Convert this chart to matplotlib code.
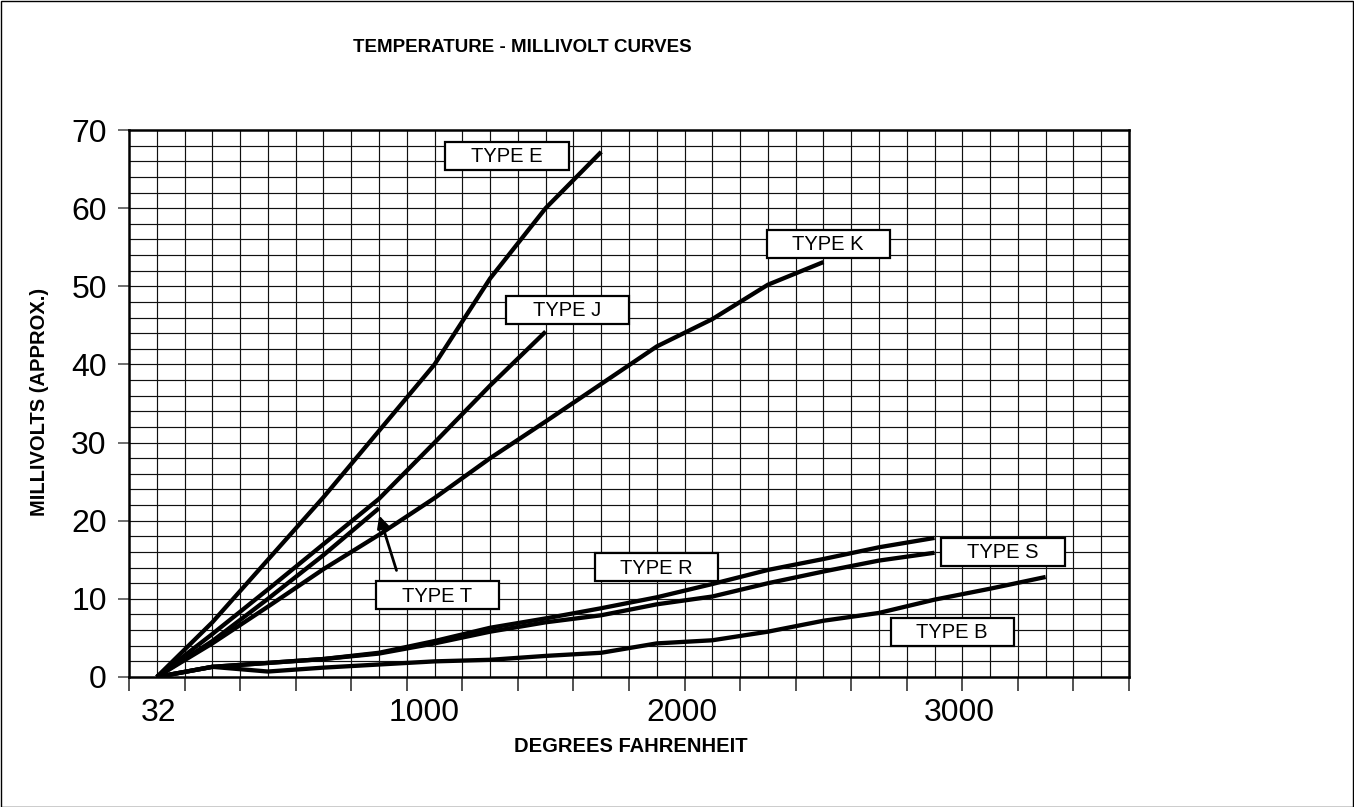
import matplotlib
matplotlib.use('Agg')
import matplotlib.pyplot as plt
from matplotlib.patches import Rectangle
import numpy as np

plt.rcParams['font.family'] = ['Liberation Sans', 'DejaVu Sans']

# ---------------- data ----------------
temps_f = [32, 200, 400, 600, 800, 1000, 1200, 1400, 1600, 1800,
           2000, 2200, 2400, 2600, 2800, 3000, 3200, 3400]
type_e = [0, 7.0, 15.0, 23.0, 31.5, 40.0, 51.0, 60.0, 67.2]
type_j = [0, 5.5, 11.2, 17.0, 22.8, 30.0, 37.3, 44.2]
type_t = [0, 4.6, 10.0, 15.6, 21.6]
type_k = [0, 4.3, 9.0, 13.8, 18.2, 22.9, 28.0, 32.7, 37.5, 42.3, 45.8, 50.2, 53.1]
type_r = [0, 1.3, 1.8, 2.3, 3.1, 4.6, 6.3, 7.5, 8.8, 10.2, 11.9, 13.7, 15.1, 16.6, 17.8]
type_s = [0, 1.3, 1.8, 2.3, 3.0, 4.3, 5.8, 7.0, 7.9, 9.3, 10.3, 12.0, 13.5, 14.9, 15.9]
type_b = [0, 1.3, 0.7, 1.2, 1.6, 2.0, 2.2, 2.7, 3.1, 4.3, 4.7, 5.8, 7.2, 8.2, 9.9, 11.3, 12.8]

series_names = ['TYPE E', 'TYPE J', 'TYPE T', 'TYPE K', 'TYPE R', 'TYPE S', 'TYPE B']
x_tick_labels = ['32', '1000', '2000', '3000']
y_ticks = [0, 10, 20, 30, 40, 50, 60, 70]

# ---------------- layout ----------------
W, H = 1354, 807
fig = plt.figure(figsize=(W / 100, H / 100), dpi=100)
ax = fig.add_axes([129 / W, 1 - 677 / H, 1000 / W, 547 / H])

ncat = len(temps_f)
ax.set_xlim(-0.5, ncat - 0.5)
ax.set_ylim(0, 70)

# grid
ax.vlines(np.arange(0, ncat - 0.5, 0.5), 0, 70, colors='#111111', linewidth=0.85, zorder=1)
ax.hlines(np.arange(2, 70, 2), -0.5, ncat - 0.5, colors='#111111', linewidth=0.85, zorder=1)

# series
for vals in [type_e, type_j, type_t, type_k, type_r, type_s, type_b]:
    ax.plot(np.arange(len(vals)), vals, color='black', linewidth=3.1,
            solid_joinstyle='round', solid_capstyle='butt', zorder=3)

# axes styling
for sp in ax.spines.values():
    sp.set_linewidth(1.8)
    sp.set_color('black')
    sp.set_zorder(4)

ax.set_xticks(np.arange(-0.5, ncat, 1))
ax.set_xticklabels([])
ax.tick_params(axis='x', length=10, width=1.2, color='#333333', direction='out')
ax.set_yticks(y_ticks)
ax.set_yticklabels([str(v) for v in y_ticks], fontsize=23)
ax.tick_params(axis='y', length=8, width=1.2, color='#555555', direction='out', pad=8)

# manual x labels (as on the original sheet)
x_label_pos = [0.04, 4.82, 9.46, 14.45]
for xp, lab in zip(x_label_pos, x_tick_labels):
    ax.text(xp, -36 / 547, lab, transform=ax.get_xaxis_transform(),
            ha='center', va='center', fontsize=23)

fig.text(522 / W, 1 - 47 / H, 'TEMPERATURE - MILLIVOLT CURVES',
         ha='center', va='center', fontsize=13.5, fontweight='bold')
fig.text(631 / W, 1 - 746 / H, 'DEGREES FAHRENHEIT',
         ha='center', va='center', fontsize=14.5, fontweight='bold')
fig.text(40 / W, 1 - 402 / H, 'MILLIVOLTS (APPROX.)', rotation=90,
         ha='center', va='center', fontsize=14.5, fontweight='bold')

# label boxes (pixel centres)
box_centers = [(507, 156), (567, 310), (437, 595), (828, 244),
               (656, 567), (1003, 552), (952, 632)]
bw, bh = 123, 28
for name, (cx, cy) in zip(series_names, box_centers):
    ax.add_patch(Rectangle(((cx - bw / 2) / W, 1 - (cy + bh / 2) / H), bw / W, bh / H,
                           transform=fig.transFigure, facecolor='white',
                           edgecolor='black', linewidth=1.6, clip_on=False, zorder=6))
    ax.text(cx / W, 1 - (cy + 1) / H, name, transform=fig.transFigure,
            ha='center', va='center', fontsize=14.5, zorder=7)

# arrow for type T
ax.annotate('', xy=(3.99, 21.0), xytext=(4.33, 13.3),
            arrowprops=dict(arrowstyle='-|>', lw=2.0, color='black', mutation_scale=18),
            zorder=6)

# outer border
fig.patches.append(Rectangle((0.5 / W, 0.5 / H), 1 - 1.5 / W, 1 - 1.5 / H,
                             transform=fig.transFigure, fill=False,
                             edgecolor='black', linewidth=1.0))

fig.savefig('out.png', dpi=100)
